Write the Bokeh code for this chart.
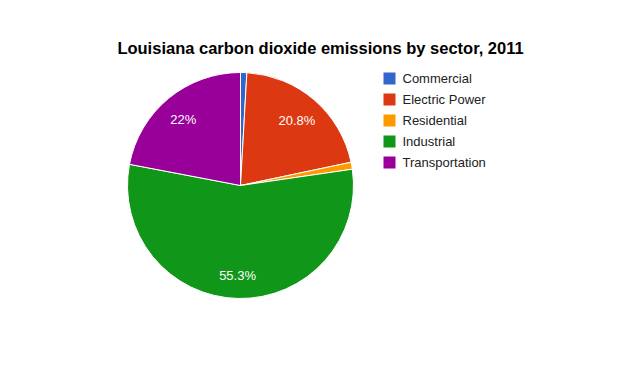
import math
from bokeh.plotting import figure
from bokeh.models import Range1d, ColumnDataSource
from bokeh.core.properties import value
from bokeh.embed import file_html
from bokeh.resources import INLINE

# ---- data ----
title_text = "Louisiana carbon dioxide emissions by sector, 2011"
sectors = ["Commercial", "Electric Power", "Residential", "Industrial", "Transportation"]
shares = [0.9, 20.8, 1.0, 55.3, 22.0]
labels = ["", "20.8%", "", "55.3%", "22%"]
colors = ["#3366cc", "#dc3912", "#ff9900", "#109618", "#990099"]

# ---- layout (pixels, y up) ----
W, H = 621, 363
cx, cy, R = 240, H - 185, 113
label_r = 0.78 * R

total = sum(shares)
starts, ends, lx, ly = [], [], [], []
cum = 0.0
for s in shares:
    a0 = cum / total
    cum += s
    a1 = cum / total
    starts.append(math.pi / 2 - a0 * 2 * math.pi)
    ends.append(math.pi / 2 - a1 * 2 * math.pi)
    mid = (a0 + a1) / 2 * 2 * math.pi
    lx.append(cx + label_r * math.sin(mid))
    ly.append(cy + label_r * math.cos(mid))

src = ColumnDataSource(dict(start=starts, end=ends, color=colors, sector=sectors,
                            lx=lx, ly=ly, label=labels))

p = figure(width=W, height=H, output_backend="svg", toolbar_location=None,
           x_range=Range1d(0, W), y_range=Range1d(0, H), min_border=0)
p.axis.visible = False
p.xgrid.visible = False
p.ygrid.visible = False
p.outline_line_color = None
p.background_fill_color = "white"

p.wedge(x=cx, y=cy, radius=R, radius_units="screen", start_angle="start", end_angle="end",
        direction="clock", fill_color="color", line_color="white", line_width=1, source=src)

p.text(x="lx", y="ly", text="label", source=src, text_color="white",
       text_font=value("Liberation Sans"), text_font_size="13px",
       text_align="center", text_baseline="middle", x_offset=-1, y_offset=2)

# title
p.text(x=[320], y=[H - 47], text=[title_text], text_color="black",
       text_font=value("Liberation Sans"), text_font_size="16.5px", text_font_style="bold",
       text_align="center", text_baseline="alphabetic")

# legend
leg_x, leg_y0, leg_dy = 389, H - 78, 21
ys = [leg_y0 - leg_dy * i for i in range(len(sectors))]
lsrc = ColumnDataSource(dict(x=[leg_x] * len(sectors), tx=[leg_x + 13] * len(sectors),
                             y=ys, color=colors, sector=sectors))
p.rect(x="x", y="y", width=12, height=12, width_units="screen", height_units="screen",
       fill_color="color", line_color=None, source=lsrc)
p.text(x="tx", y="y", text="sector", source=lsrc, text_color="#222222",
       text_font=value("Liberation Sans"), text_font_size="13px",
       text_align="left", text_baseline="middle")

open("out.html", "w").write(file_html(p, INLINE))
